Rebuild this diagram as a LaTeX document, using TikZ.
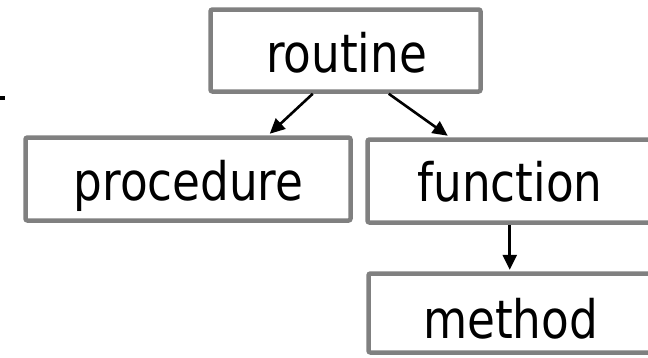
\documentclass[tikz,border=0pt]{standalone}
\usepackage{fontspec}
\newfontfamily\tfont[FakeStretch=0.95]{DejaVu Sans Condensed}
\usetikzlibrary{arrows.meta}
\definecolor{boxgray}{HTML}{808080}
\tikzset{
  boxnode/.style={draw=boxgray, line width=4.5pt, rounded corners=2pt, inner sep=0pt, fill=white},
  txt/.style={font=\tfont\fontsize{53}{60}\selectfont, inner sep=0pt, anchor=base, text=black},
  arr/.style={draw=black, line width=2.6pt, -{Triangle[length=15pt, width=14pt]}}
}
\begin{document}
\begin{tikzpicture}[x=1pt, y=-1pt]
\useasboundingbox (0,0) rectangle (648,357);
\clip (0,0) rectangle (648,357);
\node[boxnode, minimum width=270pt, minimum height=82pt] (routine) at (345.5,50.5) {};
\node[boxnode, minimum width=325pt, minimum height=83pt] (procedure) at (188,179) {};
\node[boxnode, minimum width=285pt, minimum height=83pt] (function) at (510,181) {};
\node[boxnode, minimum width=284pt, minimum height=79pt] (method) at (510.5,313) {};
\node[txt] (routineT) at (346.5,72) {routine};
\node[txt] (procedureT) at (188.5,200) {procedure};
\node[txt] (functionT) at (510,201.7) {function};
\node[txt] (methodT) at (510.5,338) {method};
\draw[arr] ([xshift=104.5pt]routine.south west) -- ([xshift=246.5pt,yshift=1.5pt]procedure.north west);
\draw[arr] ([xshift=180.5pt]routine.south west) -- ([xshift=82.5pt,yshift=1.5pt]function.north west);
\draw[arr] ([xshift=144.5pt]function.south west) -- ([xshift=143.5pt,yshift=1.5pt]method.north west);
\coordinate (dashA) at (0,98);
\coordinate (dashB) at (5,98);
\draw[line width=3.5pt, black] (dashA) -- (dashB);
\end{tikzpicture}
\end{document}
